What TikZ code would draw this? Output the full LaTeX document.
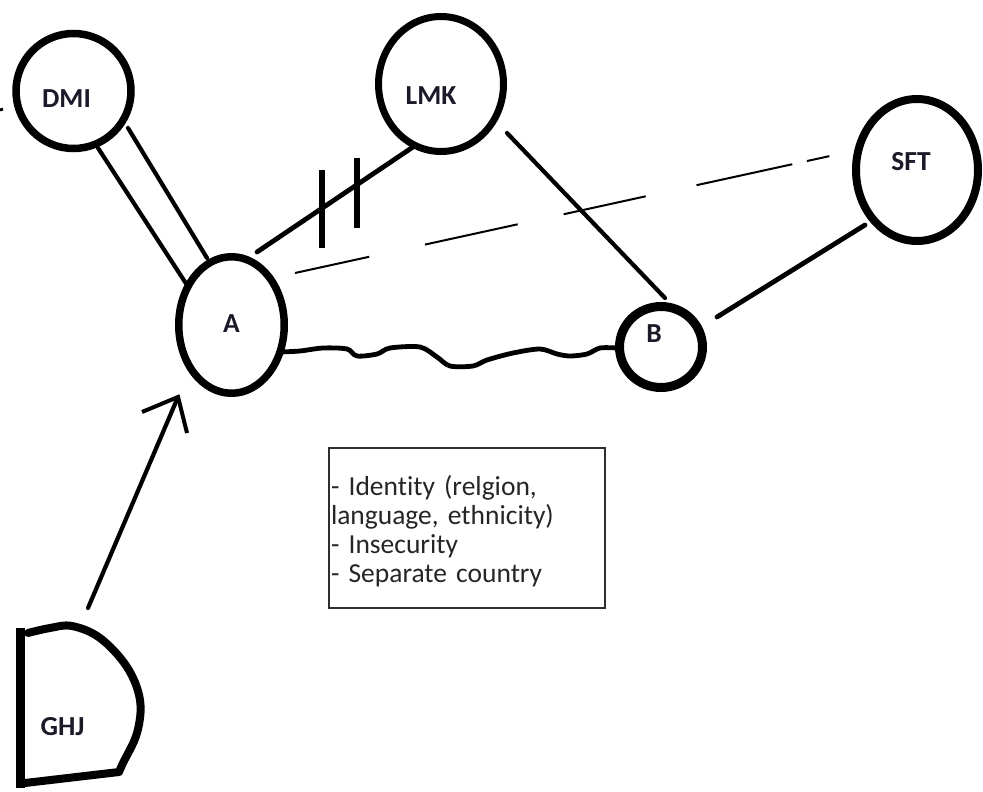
\documentclass[tikz,border=0pt]{standalone}
\usepackage{fontspec}
\setmainfont{Carlito}[Ligatures=NoCommon]
\usetikzlibrary{shapes.geometric,calc}
\definecolor{labelcol}{HTML}{1A1A28}
\definecolor{notecol}{HTML}{262626}
\definecolor{boxcol}{HTML}{2E2E2E}
\begin{document}
\begin{tikzpicture}[x=1pt,y=-1pt,
  ring/.style={draw=black, ellipse, inner sep=0pt},
  lbl/.style={text=labelcol, font=\fontsize{27.5}{30}\selectfont\bfseries, inner sep=0pt},
  edge/.style={line width=4.2pt, line cap=round},
  tickmark/.style={line width=5.5pt},
]
\useasboundingbox (0,0) rectangle (983,792);
\fill[white] (0,0) rectangle (983,792);

% nodes
\node[ring, line width=7.5pt, minimum width=115pt, minimum height=115pt,
  label={[lbl,xshift=-7pt,yshift=-7.5pt]center:DMI}] (DMI) at (73.5,91) {};
\node[ring, line width=7pt, minimum width=125pt, minimum height=135pt,
  label={[lbl,xshift=-10pt,yshift=-12pt]center:LMK}] (LMK) at (441,84) {};
\node[ring, line width=8pt, minimum width=122pt, minimum height=142pt,
  label={[lbl,xshift=-6pt,yshift=8pt]center:SFT}] (SFT) at (917,170) {};
\node[ring, line width=7.5pt, minimum width=105.5pt, minimum height=136.5pt,
  label={[lbl,yshift=1.5pt]center:A}] (A) at (231.5,325) {};
\node[ring, line width=9pt, minimum width=83pt, minimum height=81pt,
  label={[lbl,xshift=-7pt,yshift=13.5pt]center:B}] (B) at (661,347) {};
\node[lbl] (GHJ) at (62.5,727) {GHJ};

% GHJ shape
\draw[line width=9pt] (20,628) -- (20,788);
\draw[line width=8pt, line cap=round, line join=round]
  plot[smooth, tension=0.6] coordinates {(28,633) (50,628) (72,626) (100,638) (127,667) (140,700) (137,733) (123,763) (119,772)}
  -- (25,783);

% small speck
\draw[line width=3pt] (0,110) -- (3,109);

% DMI = A (double)
\draw[edge] ([shift={(24.5,57)}]DMI.center) -- ([shift={(-44.5,-40)}]A.center);
\draw[edge] ([shift={(54.5,37)}]DMI.center) -- ([shift={(-24.5,-67)}]A.center);

% A -- LMK with two tick marks
\coordinate (al0) at ([shift={(25.5,-73)}]A.center);
\coordinate (al1) at ([shift={(-28,63)}]LMK.center);
\draw[edge, line width=4.8pt] (al0) -- (al1);
\draw[tickmark] ($(al0)!0.417!(al1)$) ++(0,-38) -- ++(0,78);
\draw[tickmark] ($(al0)!0.641!(al1)$) ++(0,-27) -- ++(0,70);

% LMK -- B
\draw[edge] ([shift={(66,49)}]LMK.center) -- ([shift={(4,-49)}]B.center);
% SFT -- B
\draw[edge, line width=4.8pt] ([shift={(-52,55)}]SFT.center) -- ([shift={(56,-30)}]B.center);

% A - - SFT dashed
\draw[line width=2pt, dash pattern=on 76pt off 57pt on 95pt off 47pt on 84pt off 52pt on 98pt off 15pt on 23pt off 100pt]
  ([shift={(63.5,-52)}]A.center) -- ([shift={(-87,-14)}]SFT.center);

% A ~ B wavy
\coordinate (w0) at ([shift={(48.5,27)}]A.center);
\coordinate (w1) at ([shift={(-44,1)}]B.center);
\draw[line width=4.8pt, line cap=round, line join=round]
  plot[smooth, tension=0.5] coordinates {(w0) (300,351) (323,348) (347,349) (357,356) (377,354) (390,348) (420,347) (437,357) (450,366) (473,366) (487,360) (513,353) (540,349) (557,354) (570,356) (587,354) (600,348) (w1)};

% GHJ -> A
\coordinate (g0) at ([shift={(25.5,-119)}]GHJ.center);
\coordinate (tip) at ([shift={(-53.5,72)}]A.center);
\draw[edge] (g0) -- (tip);
\draw[line width=4pt, line join=miter] ([shift={(-36,15)}]tip) -- (tip) -- ([shift={(9,36)}]tip);

% note box
\node[draw=boxcol, line width=1.6pt, minimum width=276pt, minimum height=160pt,
  text width=272pt, inner xsep=2pt, inner ysep=0pt, align=left, text=notecol,
  font=\fontsize{27.5}{29}\selectfont] (note) at (467,528)
  {\rule{0pt}{26pt}- Identity (relgion,\\language, ethnicity)\\- Insecurity\\- Separate country};
\end{tikzpicture}
\end{document}
